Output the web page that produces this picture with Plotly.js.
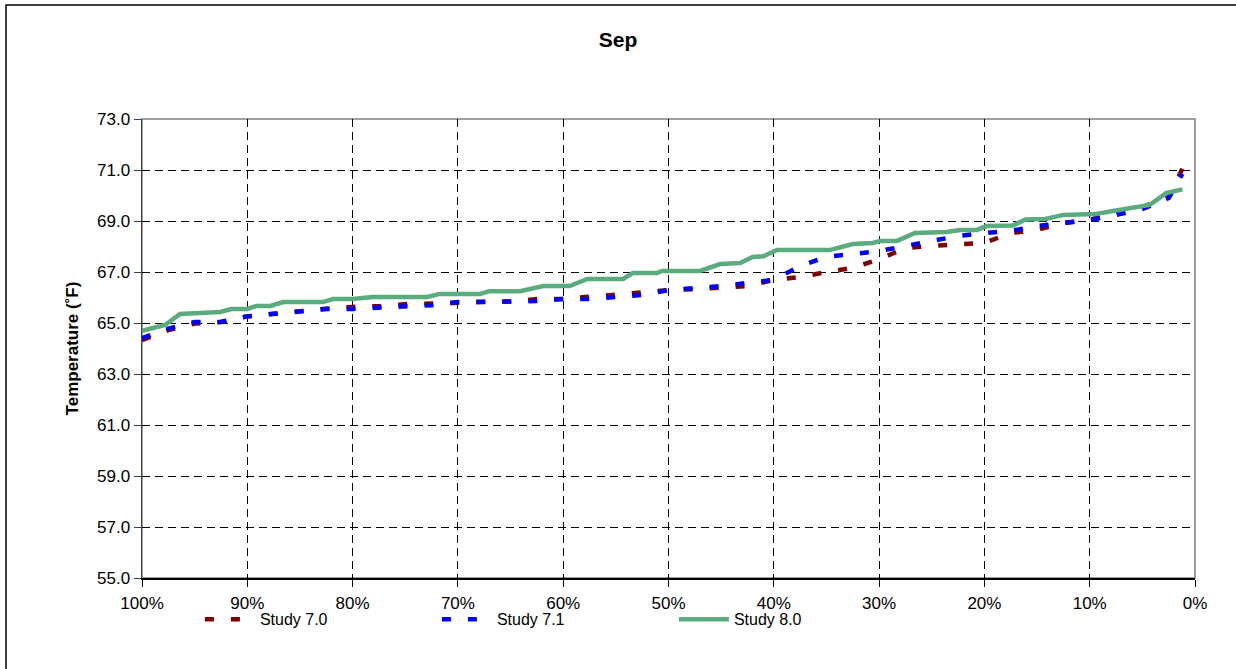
<!DOCTYPE html>
<html>
<head>
<meta charset="utf-8">
<script src="https://cdn.plot.ly/plotly-3.0.1.min.js"></script>
<style>
html,body{margin:0;padding:0;background:#fff;}
#chart{width:1236px;height:669px;}
</style>
</head>
<body>
<div id="chart"></div>
<script>
// Exceedance percentage grid for Study 7.0 / 7.1
const pctGrid = [100, 97.5, 95, 92.5, 90, 87.5, 85, 82.5, 80, 77.5, 75, 72.5, 70, 67.5, 65, 62.5, 60, 57.5, 55, 52.5, 50, 47.5, 45, 42.5, 40, 37.5, 35, 32.5, 30, 27.5, 25, 22.5, 20, 17.5, 15, 12.5, 10, 7.5, 5, 2.5, 1.2];
const study70 = [64.33, 64.72, 64.98, 65.04, 65.26, 65.37, 65.45, 65.56, 65.63, 65.66, 65.74, 65.78, 65.82, 65.82, 65.84, 65.94, 65.94, 66.02, 66.14, 66.18, 66.29, 66.33, 66.37, 66.45, 66.69, 66.80, 67.00, 67.16, 67.50, 67.94, 68.02, 68.10, 68.14, 68.53, 68.65, 68.92, 69.04, 69.35, 69.55, 69.94, 71.05];
const study71 = [64.41, 64.78, 65.04, 65.04, 65.26, 65.37, 65.45, 65.55, 65.55, 65.60, 65.63, 65.70, 65.82, 65.82, 65.82, 65.86, 65.94, 65.94, 66.02, 66.10, 66.29, 66.35, 66.45, 66.57, 66.69, 67.24, 67.60, 67.70, 67.82, 68.02, 68.22, 68.41, 68.53, 68.61, 68.80, 68.92, 69.04, 69.24, 69.47, 69.90, 70.85];
// Study 8.0 (step-like curve, own breakpoints)
const pct80 = [100, 97.8, 96.4, 92.6, 91.5, 90.0, 89.1, 87.8, 86.6, 82.8, 81.9, 80.0, 78.1, 72.9, 71.7, 67.9, 67.0, 64.1, 61.9, 59.4, 57.7, 54.3, 53.4, 51.1, 50.6, 47.0, 45.1, 43.2, 42.0, 41.0, 39.7, 34.7, 32.5, 30.6, 29.9, 28.3, 26.6, 23.6, 22.3, 20.7, 19.8, 17.3, 16.1, 14.2, 12.5, 9.5, 7.8, 5.2, 4.3, 2.7, 1.2];
const study80 = [64.69, 64.92, 65.35, 65.43, 65.55, 65.55, 65.67, 65.67, 65.82, 65.82, 65.94, 65.94, 66.02, 66.02, 66.14, 66.14, 66.25, 66.25, 66.45, 66.45, 66.73, 66.73, 66.96, 66.96, 67.04, 67.04, 67.31, 67.35, 67.59, 67.62, 67.86, 67.86, 68.10, 68.14, 68.22, 68.22, 68.53, 68.57, 68.65, 68.65, 68.80, 68.82, 69.06, 69.08, 69.24, 69.27, 69.39, 69.55, 69.63, 70.10, 70.24];
const seriesNames = ["Study 7.0", "Study 7.1", "Study 8.0"];
const xTickVals = [100, 90, 80, 70, 60, 50, 40, 30, 20, 10, 0];
const yTickVals = [55, 57, 59, 61, 63, 65, 67, 69, 71, 73];

const FONT = "Liberation Sans, Arial, sans-serif";
const traces = [
  {x: pctGrid, y: study70, name: seriesNames[0], mode: "lines", type: "scatter",
   line: {color: "#800000", width: 4.5, dash: "9px,17px"}},
  {x: pctGrid, y: study71, name: seriesNames[1], mode: "lines", type: "scatter",
   line: {color: "#0000ff", width: 4.5, dash: "9px,17px"}},
  {x: pct80, y: study80, name: seriesNames[2], mode: "lines", type: "scatter",
   line: {color: "#5aab7e", width: 4.5}}
];

const layout = {
  width: 1236, height: 669,
  margin: {l: 142, r: 41, t: 119, b: 91},
  paper_bgcolor: "#ffffff", plot_bgcolor: "#ffffff",
  font: {family: FONT, color: "#000", size: 16},
  title: {text: "<b>Sep</b>", font: {family: FONT, size: 21, color: "#000"},
          x: 0.5, xref: "container", y: 0.94, yref: "container", yanchor: "middle"},
  xaxis: {range: [100, 0], tickvals: xTickVals, ticktext: xTickVals.map(v => v + "%"),
          showgrid: true, gridcolor: "#000", gridwidth: 1, griddash: "8px,5px",
          showline: true, linecolor: "#000", linewidth: 1.5, mirror: false,
          ticks: "outside", ticklen: 7, tickcolor: "#000", zeroline: false,
          tickfont: {family: FONT, size: 17, color: "#000"}, ticklabelstandoff: 2},
  yaxis: {range: [55, 73], tickvals: yTickVals, ticktext: yTickVals.map(v => v.toFixed(1)),
          showgrid: true, gridcolor: "#000", gridwidth: 1, griddash: "8px,5px",
          showline: true, linecolor: "#404040", linewidth: 1.5, mirror: false,
          ticks: "outside", ticklen: 7, tickcolor: "#404040", zeroline: false,
          tickfont: {family: FONT, size: 17, color: "#000"},
          title: {text: "<b>Temperature (˚F)</b>", font: {family: FONT, size: 17, color: "#000"}, standoff: 14}},
  showlegend: true,
  legend: {orientation: "h", x: 0.055, xanchor: "left", y: -0.09, yanchor: "middle",
           font: {family: FONT, size: 16, color: "#000"}, itemwidth: 50, entrywidth: 172,
           bgcolor: "rgba(0,0,0,0)", traceorder: "normal"},
  shapes: [
    {type: "rect", xref: "paper", yref: "paper", x0: 0, x1: 1, y0: 0, y1: 1,
     line: {color: "#808080", width: 1.5}, layer: "below"},
    {type: "rect", xref: "paper", yref: "paper",
     x0: (6 - 142) / 1053, x1: (1300 - 142) / 1053, y0: (578 - 720) / 459, y1: (578 - 5) / 459,
     line: {color: "#000", width: 1.5}, fillcolor: "rgba(0,0,0,0)", layer: "below"}
  ]
};

Plotly.newPlot("chart", traces, layout, {displayModeBar: false, staticPlot: true});
</script>
</body>
</html>
